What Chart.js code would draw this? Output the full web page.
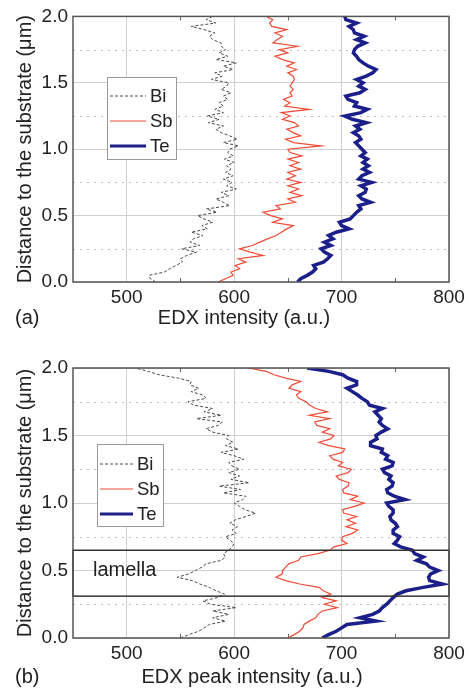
<!DOCTYPE html>
<html>
<head>
<meta charset="utf-8">
<script src="https://cdn.jsdelivr.net/npm/chart.js@4.4.1/dist/chart.umd.min.js"></script>
<style>
  body { margin: 0; background: #fff; }
  #wrapA { position: absolute; left: 0; top: 0; width: 469px; height: 340px; }
  #wrapB { position: absolute; left: 0; top: 340px; width: 469px; height: 349px; }
</style>
</head>
<body>
<div id="wrapA"><canvas id="chartA" width="469" height="340"></canvas></div>
<div id="wrapB"><canvas id="chartB" width="469" height="349"></canvas></div>
<script>
// distance to the substrate (um), shared by every series
const depth = [0, 0.025, 0.05, 0.075, 0.1, 0.125, 0.15, 0.175, 0.2, 0.225, 0.25, 0.275, 0.3, 0.325, 0.35, 0.375,
  0.4, 0.425, 0.45, 0.475, 0.5, 0.525, 0.55, 0.575, 0.6, 0.625, 0.65, 0.675, 0.7, 0.725, 0.75, 0.775,
  0.8, 0.825, 0.85, 0.875, 0.9, 0.925, 0.95, 0.975, 1.0, 1.025, 1.05, 1.075, 1.1, 1.125, 1.15, 1.175,
  1.2, 1.225, 1.25, 1.275, 1.3, 1.325, 1.35, 1.375, 1.4, 1.425, 1.45, 1.475, 1.5, 1.525, 1.55, 1.575,
  1.6, 1.625, 1.65, 1.675, 1.7, 1.725, 1.75, 1.775, 1.8, 1.825, 1.85, 1.875, 1.9, 1.925, 1.95, 1.975, 2.0];

// panel (a): EDX intensity
const biA = [527, 522, 521, 535, 540, 546, 552, 550, 556, 565, 551, 568, 559, 562, 571, 560,
  575, 570, 580, 572, 566, 584, 574, 596, 590, 583, 595, 588, 602, 593, 598, 590,
  599, 592, 597, 593, 600, 591, 599, 594, 596, 604, 590, 603, 596, 588, 583, 590,
  576, 586, 575, 590, 582, 590, 586, 594, 590, 597, 588, 593, 595, 579, 589, 582,
  599, 590, 602, 583, 594, 586, 592, 588, 588, 580, 577, 582, 572, 560, 583, 574, 580];
const sbA = [585, 592, 599, 597, 605, 601, 611, 604, 627, 615, 605, 617, 624, 631, 639, 644,
  649, 655, 636, 645, 634, 627, 643, 639, 657, 650, 663, 652, 660, 650, 662, 649,
  657, 650, 662, 652, 660, 650, 663, 652, 650, 681, 655, 648, 662, 655, 649, 660,
  656, 645, 652, 644, 670, 647, 652, 646, 654, 652, 655, 652, 654, 656, 655, 650,
  658, 649, 656, 645, 638, 650, 642, 659, 636, 640, 645, 638, 649, 635, 633, 636, 630];
const teA = [659, 662, 668, 673, 676, 674, 683, 687, 690, 684, 681, 690, 684, 692, 688, 695,
  707, 700, 698, 708, 711, 714, 718, 716, 727, 719, 716, 722, 723, 718, 728, 716,
  719, 726, 720, 725, 720, 724, 718, 722, 719, 716, 713, 718, 716, 711, 717, 713,
  723, 710, 703, 718, 724, 712, 714, 706, 704, 717, 722, 716, 720, 714, 723, 729,
  732, 725, 720, 716, 714, 711, 712, 715, 722, 714, 721, 712, 711, 707, 714, 704, 703];

// panel (b): EDX peak intensity
const biB = [550, 558, 567, 572, 577, 592, 580, 595, 580, 602, 578, 571, 585, 591, 583, 577,
  568, 561, 547, 558, 564, 570, 574, 588, 592, 590, 595, 598, 600, 596, 592, 602,
  598, 603, 596, 601, 611, 620, 610, 605, 600, 608, 611, 590, 606, 586, 614, 597,
  605, 595, 605, 598, 595, 609, 600, 588, 604, 592, 599, 593, 595, 580, 574, 585,
  589, 565, 588, 572, 580, 562, 557, 574, 571, 560, 567, 559, 560, 548, 530, 520, 508];
const sbB = [650, 656, 661, 664, 665, 670, 676, 678, 682, 696, 684, 695, 682, 690, 683, 679,
  661, 648, 639, 645, 645, 648, 651, 660, 662, 678, 689, 693, 705, 700, 701, 710,
  715, 704, 713, 705, 714, 702, 701, 712, 721, 708, 715, 702, 701, 706, 707, 698,
  695, 706, 709, 697, 701, 692, 689, 701, 703, 688, 679, 690, 693, 682, 689, 677,
  675, 689, 670, 687, 676, 670, 667, 660, 658, 662, 651, 654, 662, 648, 637, 630, 613];
const teB = [682, 688, 695, 700, 705, 732, 717, 729, 735, 738, 742, 745, 748, 752, 760, 776,
  794, 782, 781, 783, 790, 782, 779, 770, 776, 768, 766, 755, 749, 752, 754, 748,
  748, 752, 750, 746, 745, 748, 748, 744, 742, 759, 749, 743, 742, 747, 748, 744,
  746, 740, 738, 747, 748, 741, 743, 737, 738, 727, 727, 733, 732, 737, 743, 738,
  735, 737, 734, 731, 738, 726, 724, 719, 715, 710, 705, 714, 714, 706, 701, 688, 668];

const seriesNames = ["Bi", "Sb", "Te"];
const xTicks = [500, 600, 700, 800];
const xMinorTicks = [550, 650, 750];
const yTicks = [0, 0.5, 1.0, 1.5, 2.0];
const yMinorTicks = [0.25, 0.75, 1.25, 1.75];
const lamellaRange = [0.31, 0.65];

const FONT = "'Liberation Sans', Arial, sans-serif";
const styles = [
  { borderColor: "#4a4a4a", borderWidth: 1, borderDash: [3, 2] },
  { borderColor: "#f04a36", borderWidth: 1.2, borderDash: [] },
  { borderColor: "#1c1f8a", borderWidth: 3.5, borderDash: [] }
];

function toPoints(vals) {
  return vals.map((v, i) => ({ x: v, y: depth[i] }));
}

// frame, minor grid, legend box and panel labels
const decorPlugin = {
  id: "decor",
  beforeDatasetsDraw(chart, args, opts) {
    const ctx = chart.ctx, a = chart.chartArea;
    const xs = chart.scales.x, ys = chart.scales.y;
    ctx.save();
    ctx.strokeStyle = "#bdbdbd";
    ctx.lineWidth = 1;
    ctx.setLineDash([2, 5]);
    yMinorTicks.forEach(v => {
      const py = Math.round(ys.getPixelForValue(v)) + 0.5;
      ctx.beginPath(); ctx.moveTo(a.left, py); ctx.lineTo(a.right, py); ctx.stroke();
    });
    ctx.setLineDash([]);
    ctx.strokeStyle = "#666";
    xMinorTicks.forEach(v => {
      const px = Math.round(xs.getPixelForValue(v)) + 0.5;
      ctx.beginPath(); ctx.moveTo(px, a.bottom); ctx.lineTo(px, a.bottom - 4); ctx.stroke();
      ctx.beginPath(); ctx.moveTo(px, a.top); ctx.lineTo(px, a.top + 4); ctx.stroke();
    });
    ctx.restore();
  },
  afterDraw(chart, args, opts) {
    const ctx = chart.ctx, a = chart.chartArea;
    const ys = chart.scales.y;
    ctx.save();
    // lamella box
    if (opts.lamella) {
      const y1 = ys.getPixelForValue(lamellaRange[1]);
      const y2 = ys.getPixelForValue(lamellaRange[0]);
      ctx.strokeStyle = "#333";
      ctx.lineWidth = 1.5;
      ctx.strokeRect(a.left, y1, a.right - a.left, y2 - y1);
      ctx.fillStyle = "#222";
      ctx.font = "20px " + FONT;
      ctx.textAlign = "left";
      ctx.textBaseline = "middle";
      ctx.fillText("lamella", 93, ys.getPixelForValue(0.5));
    }
    // plot frame
    ctx.strokeStyle = "#555";
    ctx.lineWidth = 1.5;
    ctx.strokeRect(a.left, a.top, a.right - a.left, a.bottom - a.top);
    // legend
    const L = opts.legend;
    ctx.fillStyle = "#fff";
    ctx.fillRect(L.x, L.y, L.w, L.h);
    ctx.strokeStyle = "#9a9a9a";
    ctx.lineWidth = 1;
    ctx.strokeRect(L.x + 0.5, L.y + 0.5, L.w, L.h);
    ctx.font = "18.5px " + FONT;
    ctx.textAlign = "left";
    ctx.textBaseline = "middle";
    seriesNames.forEach((name, i) => {
      const ly = L.y + L.first + i * 25;
      const ds = chart.data.datasets[i];
      ctx.strokeStyle = ds.borderColor;
      ctx.lineWidth = Math.min(ds.borderWidth, 3);
      ctx.setLineDash(ds.borderDash);
      ctx.beginPath(); ctx.moveTo(L.x + 3, ly); ctx.lineTo(L.x + 3 + L.line, ly); ctx.stroke();
      ctx.setLineDash([]);
      ctx.fillStyle = "#222";
      ctx.fillText(name, L.x + L.line + 7, ly + 1);
    });
    // panel letter and x axis title
    ctx.fillStyle = "#222";
    ctx.font = "20px " + FONT;
    ctx.textBaseline = "middle";
    ctx.textAlign = "left";
    ctx.fillText(opts.panel, 15, a.bottom + opts.titleGap);
    ctx.textAlign = "center";
    ctx.fillText(opts.xTitle, opts.xTitleX, a.bottom + opts.titleGap);
    ctx.restore();
  }
};

function makeChart(id, data, topPad, bottomH, decor) {
  return new Chart(document.getElementById(id), {
    type: "scatter",
    data: {
      datasets: data.map((vals, i) => Object.assign({
        label: seriesNames[i],
        data: toPoints(vals),
        showLine: true,
        pointRadius: 0,
        tension: 0,
        fill: false
      }, styles[i]))
    },
    options: {
      responsive: false,
      animation: false,
      devicePixelRatio: 1,
      layout: { padding: { top: topPad, right: 20, left: 0, bottom: 0 } },
      plugins: {
        legend: { display: false },
        tooltip: { enabled: false },
        decor: decor
      },
      scales: {
        x: {
          type: "linear",
          min: 450, max: 800,
          afterBuildTicks: s => { s.ticks = xTicks.map(v => ({ value: v })); },
          afterFit: s => { s.height = bottomH; },
          grid: { color: "#cfcfcf", lineWidth: 1, drawTicks: false },
          border: { display: false },
          ticks: { padding: 4, color: "#222", font: { family: FONT, size: 19 }, maxRotation: 0 }
        },
        y: {
          type: "linear",
          min: 0, max: 2,
          afterBuildTicks: s => { s.ticks = yTicks.map(v => ({ value: v })); },
          afterFit: s => { s.width = 73; },
          grid: { color: "#cfcfcf", lineWidth: 1, drawTicks: false },
          border: { display: false },
          ticks: { padding: 5, color: "#222", font: { family: FONT, size: 19 }, callback: v => v.toFixed(1) },
          title: {
            display: true,
            text: "Distance to the substrate (\u03bcm)",
            color: "#222",
            font: { family: FONT, size: 20 },
            padding: { top: 13, bottom: 0 }
          }
        }
      }
    },
    plugins: [decorPlugin]
  });
}

makeChart("chartA", [biA, sbA, teA], 13, 58, {
  panel: "(a)",
  xTitle: "EDX intensity (a.u.)",
  xTitleX: 244,
  titleGap: 36,
  lamella: false,
  legend: { x: 107, y: 77, w: 69, h: 82, line: 36, first: 19 }
});

makeChart("chartB", [biB, sbB, teB], 28, 51, {
  panel: "(b)",
  xTitle: "EDX peak intensity (a.u.)",
  xTitleX: 252,
  titleGap: 39,
  lamella: true,
  legend: { x: 97, y: 104, w: 66, h: 82, line: 33, first: 20 }
});
</script>
</body>
</html>
